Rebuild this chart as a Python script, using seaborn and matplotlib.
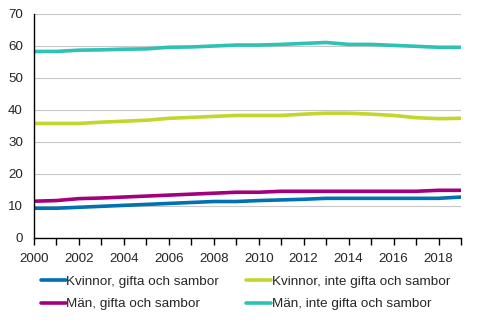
import matplotlib
matplotlib.use("Agg")
import matplotlib.pyplot as plt
import seaborn as sns
import pandas as pd
import numpy as np

years = list(range(2000, 2020))
kvinnor_gifta = [9.3, 9.3, 9.6, 9.9, 10.2, 10.5, 10.8, 11.1, 11.4, 11.4, 11.7, 11.9, 12.1, 12.4, 12.4, 12.4, 12.4, 12.4, 12.4, 12.8]
kvinnor_inte = [35.8, 35.8, 35.8, 36.2, 36.5, 36.8, 37.4, 37.7, 38.0, 38.3, 38.3, 38.3, 38.7, 39.0, 39.0, 38.7, 38.3, 37.6, 37.3, 37.4]
man_gifta = [11.5, 11.7, 12.3, 12.5, 12.8, 13.1, 13.4, 13.7, 14.0, 14.3, 14.3, 14.6, 14.6, 14.6, 14.6, 14.6, 14.6, 14.6, 14.9, 14.9]
man_inte = [58.3, 58.3, 58.7, 58.8, 59.0, 59.1, 59.6, 59.7, 60.0, 60.3, 60.3, 60.5, 60.8, 61.1, 60.5, 60.5, 60.2, 59.9, 59.6, 59.6]

series_names = ["Kvinnor, gifta och sambor", "Kvinnor, inte gifta och sambor",
                "Män, gifta och sambor", "Män, inte gifta och sambor"]
colors = ["#0072B2", "#C3D62E", "#A2007E", "#2EC1B5"]
x_tick_labels = [str(y) for y in range(2000, 2020, 2)]

df = pd.DataFrame({"year": years * 4,
                   "value": kvinnor_gifta + kvinnor_inte + man_gifta + man_inte,
                   "series": sum([[n] * len(years) for n in series_names], [])})

sns.set_theme(style="white")
plt.rcParams['font.family'] = ['Liberation Sans', 'DejaVu Sans']

fig = plt.figure(figsize=(4.91, 3.21), dpi=100)
ax = fig.add_axes([34 / 491, 1 - 238 / 321, (461 - 34) / 491, (238 - 14) / 321])

sns.lineplot(data=df, x="year", y="value", hue="series", hue_order=series_names,
             palette=colors, linewidth=2.6, ax=ax, legend=False)

ax.set_xlim(2000, 2019)
ax.set_ylim(0, 70)
ax.set_yticks(range(0, 71, 10))
ax.set_xticks(range(2000, 2020, 2))
ax.set_xticklabels(x_tick_labels)
ax.set_xticks(range(2000, 2020), minor=True)
ax.tick_params(axis='x', which='both', direction='out', length=5, width=1, color='black',
               bottom=True, labelsize=9.6, pad=6)
ax.tick_params(axis='y', which='both', direction='out', length=0, left=False, labelsize=9.6, pad=8)
ax.set_xlabel("")
ax.set_ylabel("")
for yv in range(10, 71, 10):
    ax.axhline(yv, color="#c8c8c8", linewidth=0.8, zorder=0)
for s in ["top", "right"]:
    ax.spines[s].set_visible(False)
for s in ["left", "bottom"]:
    ax.spines[s].set_color("black")
    ax.spines[s].set_linewidth(1)

from matplotlib.lines import Line2D
handles = [Line2D([], [], color=c, linewidth=2.6) for c in colors]
order = [0, 2, 1, 3]
fig.legend([handles[i] for i in order], [series_names[i] for i in order],
           loc="upper left", bbox_to_anchor=(0.083, 0.142), ncol=2, frameon=False,
           fontsize=9.7, handlelength=1.85, handletextpad=0.05, columnspacing=2.0,
           labelspacing=0.74, borderaxespad=0, borderpad=0)

fig.savefig("out.png", dpi=100)
